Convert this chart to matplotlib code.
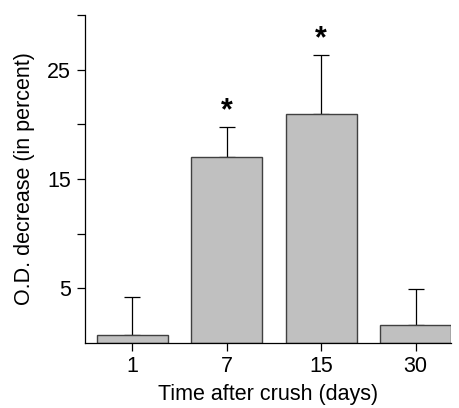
import matplotlib
matplotlib.use("Agg")
import matplotlib.pyplot as plt

categories = ["1", "7", "15", "30"]
values = [0.7, 17.05, 21.0, 1.6]
errors = [3.45, 2.75, 5.4, 3.3]
significant = [False, True, True, False]
yticks_labeled = {5: "5", 15: "15", 25: "25"}

plt.rcParams['font.family'] = ['Liberation Sans', 'DejaVu Sans']

fig = plt.figure(figsize=(4.59, 4.08), dpi=100)
ax = fig.add_axes([0.185, 0.16, 0.7976, 0.8025])

x = list(range(len(categories)))
ax.bar(x, values, width=0.75, color="#c0c0c0", edgecolor="#404040", linewidth=1.0, zorder=2)
ax.errorbar(x, values, yerr=[[0] * len(errors), errors], fmt="none", ecolor="black",
            elinewidth=0.9, capsize=6, capthick=0.9, zorder=1.5)
for xi, v, e, s in zip(x, values, errors, significant):
    if s:
        ax.text(xi, v + e + 1.45, "*", ha="center", va="center", fontsize=22, fontweight="bold")

ax.set_xlim(-0.5, 3.375)
ax.set_ylim(0, 30)
ax.set_xticks(x)
ax.set_xticklabels(categories)
ticks = [5, 10, 15, 20, 25, 30]
ax.set_yticks(ticks)
ax.set_yticklabels([yticks_labeled.get(t, "") for t in ticks])
ax.tick_params(direction="out", length=6, width=0.9, labelsize=15.5, colors="black")
ax.tick_params(axis="x", pad=3.5)
ax.tick_params(axis="y", pad=4)
ax.spines["top"].set_visible(False)
ax.spines["right"].set_visible(False)
for sp in ("left", "bottom"):
    ax.spines[sp].set_linewidth(0.9)
ax.set_xlabel("Time after crush (days)", fontsize=15.5, labelpad=5)
ax.set_ylabel("O.D. decrease (in percent)", fontsize=15.5, labelpad=9)

fig.savefig("out.png", dpi=100)
